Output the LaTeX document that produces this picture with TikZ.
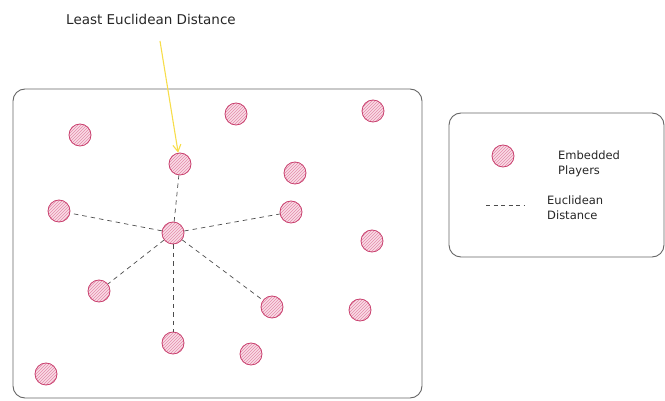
\documentclass[tikz,border=0pt]{standalone}
\usepackage{fontspec}
\setmainfont{DejaVu Sans}
\usetikzlibrary{positioning,arrows.meta,patterns}
\definecolor{dotedge}{HTML}{C9406E}
\definecolor{dotfill}{HTML}{F9DCE6}
\definecolor{dothatch}{HTML}{E48BAA}
\definecolor{pointer}{HTML}{F7DD4A}
\tikzset{
  player/.style={circle,draw=dotedge,line width=0.8pt,minimum size=22pt,inner sep=0pt,
    preaction={fill=dotfill},pattern=north east lines,pattern color=dothatch},
  dist/.style={dashed,draw=black!70,line width=0.7pt,dash pattern=on 4.5pt off 4pt},
  panel/.style={draw=black!60,line width=0.9pt,rounded corners=12pt},
  lbl/.style={font=\fontsize{11.5}{15}\selectfont,text=black!85,align=left,inner sep=0pt},
}

\begin{document}
\begin{tikzpicture}[x=1pt,y=-1pt]
  \useasboundingbox (0,0) rectangle (665,401);
  % frames
  \draw[panel] (13,89) rectangle (422,398);
  \draw[panel] (449,113) rectangle (664,257);

  % embedded players
  \node[player] (pc)  at (173,233) {};
  \node[player] (pt)  at (180,164) {};
  \node[player] (pl)  at (59,211) {};
  \node[player] (pr)  at (291,212) {};
  \node[player] (pbl) at (99,291) {};
  \node[player] (pbr) at (272,307) {};
  \node[player] (pb)  at (173,343) {};
  \node[player] (p1)  at (80,135) {};
  \node[player] (p2)  at (236,114) {};
  \node[player] (p3)  at (373,111) {};
  \node[player] (p4)  at (295,173) {};
  \node[player] (p5)  at (372,241) {};
  \node[player] (p6)  at (360,310) {};
  \node[player] (p7)  at (251,354) {};
  \node[player] (p8)  at (46,374) {};

  % distances from the centre player
  \foreach \n in {pt,pl,pr,pbl,pbr,pb}
    \draw[dist] (pc) -- (\n);

  % pointer to the nearest one
  \node[lbl,font=\fontsize{13.5}{16}\selectfont] (title) at (151,19) {Least Euclidean Distance};
  \coordinate (tail) at (160,41);
  \draw[pointer,line width=1.1pt,-{Straight Barb[length=7pt,width=8pt]}] (tail) -- (pt);

  % legend
  \node[player] (key) at (503,156) {};
  \node[lbl,anchor=west] (keytext) at (558,164) {Embedded\\Players};
  \coordinate (da) at (486,205);
  \coordinate (db) at (525,205);
  \draw[dist,line width=0.6pt,dash pattern=on 4pt off 3.5pt] (da) -- (db);
  \node[lbl,anchor=west] (disttext) at (547,208) {Euclidean\\Distance};
\end{tikzpicture}
\end{document}
